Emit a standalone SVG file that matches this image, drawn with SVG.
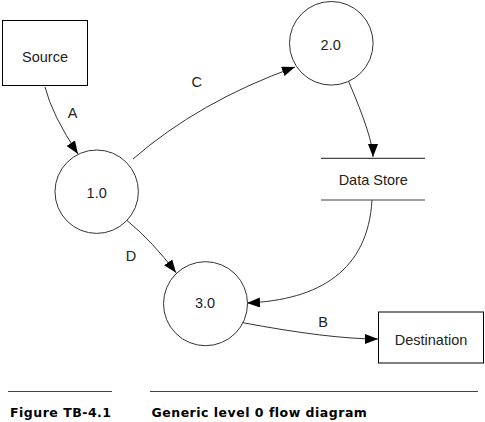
<svg xmlns="http://www.w3.org/2000/svg" width="485" height="422" viewBox="0 0 485 422">
<defs>
<style>
.bg{fill:#fff}
.box{fill:#fff;stroke:#000;stroke-width:1}
.proc{fill:#fff;stroke:#333;stroke-width:1}
.store{stroke:#444;stroke-width:1.2}
.flow{fill:none;stroke:#333;stroke-width:1}
.rule{stroke:#444;stroke-width:1.2}
.t{font-family:"Liberation Sans",Arial,sans-serif;font-size:14.5px;fill:#222;text-anchor:middle}
.cap{font-family:"DejaVu Sans",Verdana,sans-serif;font-size:12.5px;font-weight:bold;fill:#000;letter-spacing:0.5px}
</style>
<marker id="arr" markerUnits="userSpaceOnUse" markerWidth="14" markerHeight="11" refX="13" refY="5" orient="auto">
<path d="M0,0 L13,5 L0,10 Z" fill="#000"/>
</marker>
</defs>
<rect class="bg" width="485" height="422"/>

<g id="connectors">
<path id="flow-A" class="flow" d="M45,87 Q52,115 78,154" marker-end="url(#arr)"/>
<path id="flow-C" class="flow" d="M133,159 Q199,101.5 295,67" marker-end="url(#arr)"/>
<path id="flow-2-store" class="flow" d="M348,80 Q373,138 373,157" marker-end="url(#arr)"/>
<path id="flow-store-3" class="flow" d="M372,200 C368,270 320,300 247,303" marker-end="url(#arr)"/>
<path id="flow-D" class="flow" d="M127,220.5 Q153,242 176,272.7" marker-end="url(#arr)"/>
<path id="flow-B" class="flow" d="M242,322.5 Q329,339 378,339" marker-end="url(#arr)"/>
<text class="t" x="72.7" y="118.3">A</text>
<text class="t" x="196.7" y="87.3">C</text>
<text class="t" x="131" y="260.7">D</text>
<text class="t" x="323" y="326.7">B</text>
</g>

<g id="source">
<rect class="box" x="2.5" y="20.5" width="85" height="65"/>
<text class="t" x="45" y="61.7">Source</text>
</g>

<g id="process-1">
<circle class="proc" cx="96.7" cy="191.7" r="41.7"/>
<text class="t" x="96.7" y="198.3">1.0</text>
</g>

<g id="process-2">
<circle class="proc" cx="331.3" cy="43.3" r="41.8"/>
<text class="t" x="330.7" y="50">2.0</text>
</g>

<g id="data-store">
<line class="store" x1="321" y1="158.3" x2="425" y2="158.3"/>
<line class="store" x1="321" y1="200" x2="425" y2="200"/>
<text class="t" x="373.3" y="185">Data Store</text>
</g>

<g id="process-3">
<circle class="proc" cx="205.5" cy="303.7" r="42"/>
<text class="t" x="205" y="308.3">3.0</text>
</g>

<g id="destination">
<rect class="box" x="378.5" y="312" width="105" height="51"/>
<text class="t" x="431" y="345">Destination</text>
</g>

<g id="caption">
<line class="rule" x1="8" y1="391.5" x2="112" y2="391.5"/>
<line class="rule" x1="150" y1="391.5" x2="478" y2="391.5"/>
<text class="cap" x="10" y="416.5">Figure TB-4.1</text>
<text class="cap" x="151.5" y="416.5">Generic level 0 flow diagram</text>
</g>
</svg>
